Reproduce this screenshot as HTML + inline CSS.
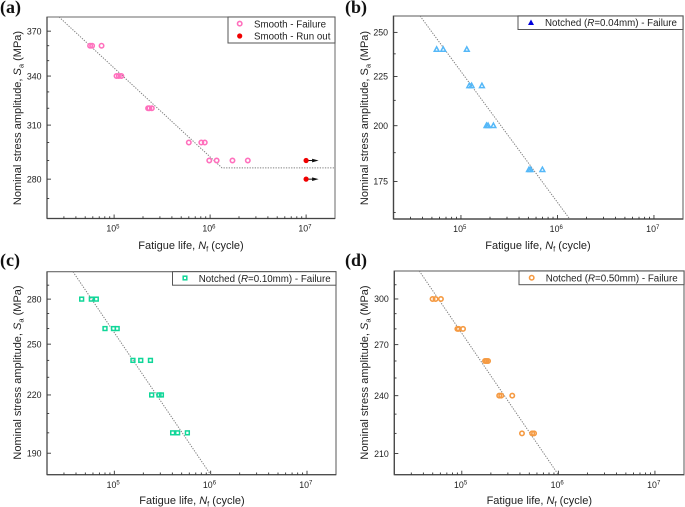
<!DOCTYPE html>
<html lang="en">
<head>
<meta charset="utf-8">
<title>Fatigue S-N charts</title>
<style>
html,body{margin:0;padding:0;background:#fff;}
svg{display:block;font-family:"Liberation Sans",sans-serif;fill:#222;filter:blur(0.3px);}
.panel-label{font-family:"Liberation Serif",serif;font-weight:bold;font-size:18px;fill:#111;}
.axis-title{font-size:11px;text-anchor:middle;fill:#222;}
.legend-text{font-size:9.75px;fill:#222;}
.tick-label{font-size:8.8px;fill:#222;}
.legend-box{fill:#fff;stroke:#555;stroke-width:1;}
</style>
</head>
<body>
<svg id="chart" width="685" height="507" viewBox="0 0 685 507" xmlns="http://www.w3.org/2000/svg">
  <g id="panel-a"></g>
  <g id="panel-b"></g>
  <g id="panel-c"></g>
  <g id="panel-d"></g>

  <text class="panel-label" x="0" y="13">(a)</text>
  <text class="panel-label" x="345" y="13">(b)</text>
  <text class="panel-label" x="0" y="266">(c)</text>
  <text class="panel-label" x="345" y="266">(d)</text>

  <text class="axis-title" transform="translate(21 118) rotate(-90)">Nominal stress amplitude, <tspan font-style="italic">S</tspan><tspan font-size="7.5" dy="2.5">a</tspan><tspan dy="-2.5"> (MPa)</tspan></text>
  <text class="axis-title" transform="translate(368 118) rotate(-90)">Nominal stress amplitude, S<tspan font-size="7.5" dy="2.5">a</tspan><tspan dy="-2.5"> (MPa)</tspan></text>
  <text class="axis-title" transform="translate(21 372.5) rotate(-90)">Nominal stress amplitude, <tspan font-style="italic">S</tspan><tspan font-size="7.5" dy="2.5">a</tspan><tspan dy="-2.5"> (MPa)</tspan></text>
  <text class="axis-title" transform="translate(368 372.5) rotate(-90)">Nominal stress amplitude, <tspan font-style="italic">S</tspan><tspan font-size="7.5" dy="2.5">a</tspan><tspan dy="-2.5"> (MPa)</tspan></text>

  <text class="axis-title" x="191" y="249">Fatigue life, <tspan font-style="italic">N</tspan><tspan font-size="7.5" dy="2.5">f</tspan><tspan dy="-2.5"> (cycle)</tspan></text>
  <text class="axis-title" x="538" y="249">Fatigue life, <tspan font-style="italic">N</tspan><tspan font-size="7.5" dy="2.5">f</tspan><tspan dy="-2.5"> (cycle)</tspan></text>
  <text class="axis-title" x="192" y="504">Fatigue life, <tspan font-style="italic">N</tspan><tspan font-size="7.5" dy="2.5">f</tspan><tspan dy="-2.5"> (cycle)</tspan></text>
  <text class="axis-title" x="539.3" y="504">Fatigue life, <tspan font-style="italic">N</tspan><tspan font-size="7.5" dy="2.5">f</tspan><tspan dy="-2.5"> (cycle)</tspan></text>

  <g>
    <rect class="legend-box" x="228" y="17" width="107" height="26"></rect>
    <circle cx="239.7" cy="23.6" r="2.2" fill="none" stroke="#ff70bd" stroke-width="1.6"></circle>
    <text class="legend-text" x="254" y="27.3">Smooth - Failure</text>
    <circle cx="239.7" cy="36" r="2.6" fill="#f00000"></circle>
    <text class="legend-text" x="254" y="39.7">Smooth - Run out</text>
  </g>
  <g>
    <rect class="legend-box" x="518" y="16" width="165" height="13.5"></rect>
    <path d="M531 19.5 L534 25 L528 25 Z" fill="#0000dd"></path>
    <text class="legend-text" x="545" y="26">Notched (<tspan font-style="italic">R</tspan>=0.04mm) - Failure</text>
  </g>
  <g>
    <rect class="legend-box" x="172.5" y="271.7" width="163.5" height="13.5"></rect>
    <rect x="183.2" y="276.2" width="3.6" height="3.6" fill="none" stroke="#10d698" stroke-width="1.5"></rect>
    <text class="legend-text" x="198.7" y="281.8">Notched (<tspan font-style="italic">R</tspan>=0.10mm) - Failure</text>
  </g>
  <g>
    <rect class="legend-box" x="519" y="271" width="165" height="13.7"></rect>
    <circle cx="531.7" cy="277.7" r="2.2" fill="none" stroke="#f59a42" stroke-width="1.6"></circle>
    <text class="legend-text" x="545.7" y="281.4">Notched (<tspan font-style="italic">R</tspan>=0.50mm) - Failure</text>
  </g>
</svg>

<script>
// ---- shared x axis data ----
const xLimits = [2e4, 2e7];
const xMajorExponents = [5, 6, 7];
const xMinorValues = [3e4,4e4,5e4,6e4,7e4,8e4,9e4,2e5,3e5,4e5,5e5,6e5,7e5,8e5,9e5,2e6,3e6,4e6,5e6,6e6,7e6,8e6,9e6];

// ---- panel (a) data ----
const aFailureN = [5.62e4,5.9e4,7.4e4,1.06e5,1.12e5,1.19e5,2.26e5,2.33e5,2.47e5,6.0e5,8.1e5,8.8e5,9.8e5,1.17e6,1.71e6,2.47e6];
const aFailureS = [360,360,360,340,340,340,320,320,320,300,300,300,290,290,290,290];
const aRunoutN = [1e7,1e7];
const aRunoutS = [290,280];
const aFitN = [2.67e4,1.33e6,2e7];
const aFitS = [380,286,286];
const aYLimits = [260,380];
const aYMajor = [280,310,340,370];
const aYMinor = [270,290,300,320,330,350,360];

// ---- panel (b) data ----
const bFailureN = [5.6e4,6.55e4,1.15e5,1.22e5,1.29e5,1.65e5,1.84e5,1.91e5,2.17e5,5.07e5,5.27e5,6.98e5];
const bFailureS = [240,240,240,220,220,220,200,200,200,180,180,180];
const bFitN = [3.77e4,1.34e6];
const bFitS = [260,160];
const bYLimits = [160,260];
const bYMajor = [175,200,225,250];
const bYMinor = [162.5,187.5,212.5,237.5];

// ---- panel (c) data ----
const cFailureN = [4.58e4,5.77e4,6.5e4,8.0e4,9.8e4,1.07e5,1.56e5,1.88e5,2.37e5,2.44e5,2.91e5,3.08e5,4.03e5,4.54e5,5.73e5];
const cFailureS = [280,280,280,260,260,260,240,240,240,220,220,220,200,200,200];
const cFitN = [3.72e4,1.0e6];
const cFitS = [300,180];
const cYLimits = [180,300];
const cYMajor = [190,220,250,280];
const cYMinor = [200,210,230,240,260,270,290];

// ---- panel (d) data ----
const dFailureN = [4.98e4,5.35e4,6.08e4,9.0e4,9.3e4,1.03e5,1.74e5,1.8e5,1.87e5,2.44e5,2.56e5,3.33e5,4.2e5,5.35e5,5.6e5];
const dFailureS = [300,300,300,280,280,280,260,260,260,240,240,240,220,220,220];
const dFitN = [3.63e4,1.0e6];
const dFitS = [320,200];
const dYLimits = [200,320];
const dYMajor = [210,240,270,300];
const dYMinor = [220,230,250,260,280,290,310];

const NS = 'http://www.w3.org/2000/svg';

function make(parent, tag, attrs, text) {
  const el = document.createElementNS(NS, tag);
  for (const k in attrs) el.setAttribute(k, attrs[k]);
  if (text !== undefined) el.textContent = text;
  parent.appendChild(el);
  return el;
}

function drawAxes(g, box, yLimits, yMajor, yMinor, xOf, yOf, frameColor, frameWidth) {
  const frame = make(g, 'rect', {x: box.l, y: box.t, width: box.r - box.l, height: box.b - box.t, fill: 'none', stroke: frameColor, 'stroke-width': frameWidth});
  
  
  const leftAxis = make(g, 'line', {x1: box.l, x2: box.l, y1: box.t, y2: box.b, stroke: '#444', 'stroke-width': 1.2});
  
  
  const bottomAxis = make(g, 'line', {x1: box.l, x2: box.r, y1: box.b, y2: box.b, stroke: '#444', 'stroke-width': 1.2});
  
  

  yMajor.forEach(function (v) {
    const t = make(g, 'line', {x1: box.l, x2: box.l + 4, y1: yOf(v), y2: yOf(v), stroke: '#333', 'stroke-width': 0.9});
    
    
    const lab = make(g, 'text', {class: 'tick-label', x: box.l - 5.5, y: yOf(v) + 3.2, 'text-anchor': 'end'}, String(v));
    
    
  });
  yMinor.forEach(function (v) {
    const t = make(g, 'line', {x1: box.l, x2: box.l + 2.2, y1: yOf(v), y2: yOf(v), stroke: '#333', 'stroke-width': 0.9});
    
    
  });
  xMajorExponents.forEach(function (e) {
    const px = xOf(Math.pow(10, e));
    const t = make(g, 'line', {x1: px, x2: px, y1: box.b, y2: box.b - 4, stroke: '#333', 'stroke-width': 0.9});
    
    
    const lab = make(g, 'text', {class: 'tick-label', x: px - 1.2, y: box.b + 13.2, 'text-anchor': 'middle'}, '10');
    
    
    make(lab, 'tspan', {'font-size': 6, dy: -3.2}, String(e));
  });
  xMinorValues.forEach(function (v) {
    const px = xOf(v);
    const t = make(g, 'line', {x1: px, x2: px, y1: box.b, y2: box.b - 2.2, stroke: '#333', 'stroke-width': 0.9});
    
    
  });
}

function drawFit(g, fitN, fitS, xOf, yOf) {
  const pts = fitN.map(function (n, i) { return xOf(n).toFixed(2) + ',' + yOf(fitS[i]).toFixed(2); }).join(' ');
  const line = make(g, 'polyline', {points: pts, fill: 'none', stroke: '#808080', 'stroke-width': 1, 'stroke-dasharray': '1.3 1.3'});
  
  
}

function drawMarker(g, shape, color, px, py) {
  let m;
  if (shape === 'circle') {
    m = make(g, 'circle', {cx: px, cy: py, r: 2.2, fill: 'none', stroke: color, 'stroke-width': 1.6});
  } else if (shape === 'square') {
    m = make(g, 'rect', {x: px - 1.9, y: py - 1.9, width: 3.8, height: 3.8, fill: 'none', stroke: color, 'stroke-width': 1.5});
  } else {
    m = make(g, 'path', {d: 'M' + px + ' ' + (py - 2.6) + ' L' + (px + 2.4) + ' ' + (py + 1.8) + ' L' + (px - 2.4) + ' ' + (py + 1.8) + ' Z', fill: 'none', stroke: color, 'stroke-width': 1.5});
  }
  
  
}

function drawPanel(id, box, yLimits, yMajor, yMinor, fitN, fitS, seriesN, seriesS, shape, color, frameColor, frameWidth) {
  const g = document.getElementById(id);
  const x10 = Math.log10(xLimits[0]);
  const xSpan = Math.log10(xLimits[1]) - x10;
  const y10 = Math.log10(yLimits[0]);
  const ySpan = Math.log10(yLimits[1]) - y10;
  const xOf = function (v) { return box.l + (Math.log10(v) - x10) / xSpan * (box.r - box.l); };
  const yOf = function (v) { return box.b - (Math.log10(v) - y10) / ySpan * (box.b - box.t); };
  drawAxes(g, box, yLimits, yMajor, yMinor, xOf, yOf, frameColor, frameWidth);
  drawFit(g, fitN, fitS, xOf, yOf);
  seriesN.forEach(function (n, i) {
    drawMarker(g, shape, color, xOf(n), yOf(seriesS[i]));
  });
  return {g: g, xOf: xOf, yOf: yOf};
}

const panelA = drawPanel('panel-a', {l: 47, r: 335, t: 17, b: 218.5}, aYLimits, aYMajor, aYMinor, aFitN, aFitS, aFailureN, aFailureS, 'circle', '#ff70bd', '#777', 1.1);
drawPanel('panel-b', {l: 393.5, r: 683, t: 16, b: 219}, bYLimits, bYMajor, bYMinor, bFitN, bFitS, bFailureN, bFailureS, 'triangle', '#55b8f8', '#888', 1.4);
drawPanel('panel-c', {l: 47, r: 336, t: 271.7, b: 474.7}, cYLimits, cYMajor, cYMinor, cFitN, cFitS, cFailureN, cFailureS, 'square', '#10d698', '#666', 1.1);
drawPanel('panel-d', {l: 394.3, r: 684, t: 271, b: 474.7}, dYLimits, dYMajor, dYMinor, dFitN, dFitS, dFailureN, dFailureS, 'circle', '#f59a42', '#888', 1.4);

aRunoutN.forEach(function (n, i) {
  const px = panelA.xOf(n);
  const py = panelA.yOf(aRunoutS[i]);
  const shaft = make(panelA.g, 'line', {x1: px, x2: px + 7, y1: py, y2: py, stroke: '#111', 'stroke-width': 1});
  
  
  const head = make(panelA.g, 'path', {d: 'M' + (px + 12.5) + ' ' + py + ' L' + (px + 6) + ' ' + (py - 1.8) + ' L' + (px + 6) + ' ' + (py + 1.8) + ' Z', fill: '#111'});
  
  
  const dot = make(panelA.g, 'circle', {cx: px, cy: py, r: 2.6, fill: '#f00000'});
  
  
});
</script>
</body>
</html>
